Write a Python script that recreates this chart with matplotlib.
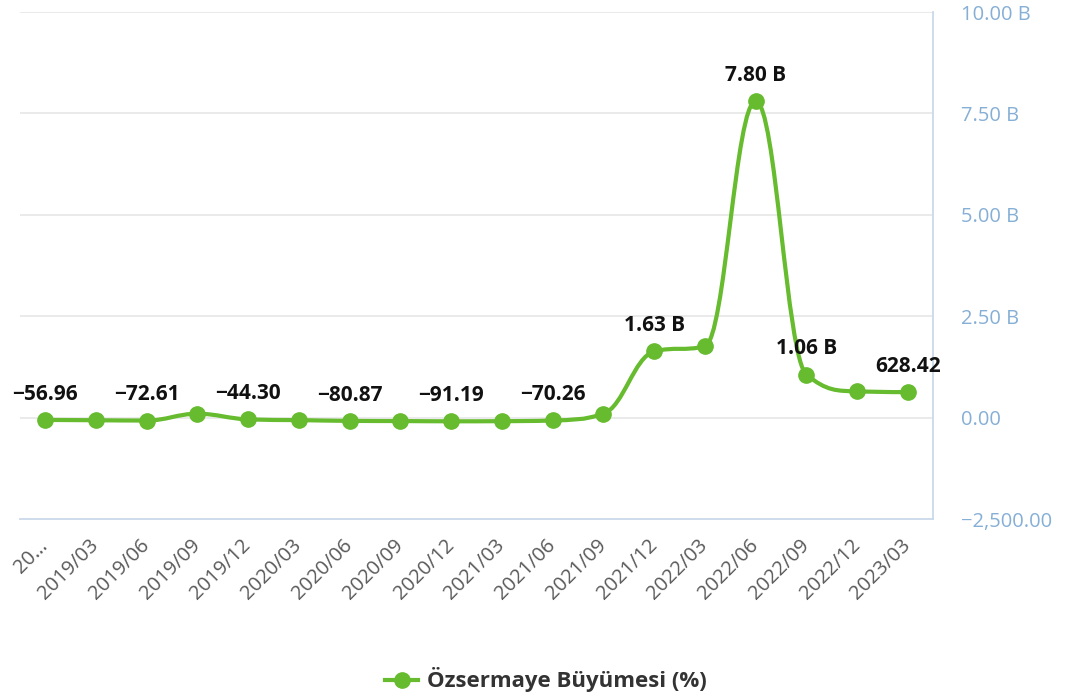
import numpy as np
import matplotlib
matplotlib.use("Agg")
import matplotlib.pyplot as plt
from matplotlib.path import Path
from matplotlib.patches import PathPatch
from matplotlib.lines import Line2D

plt.rcParams['font.family'] = ['Open Sans', 'DejaVu Sans']

# Quarterly equity growth values (in millions)
periods = ["20…", "2019/03", "2019/06", "2019/09", "2019/12", "2020/03",
           "2020/06", "2020/09", "2020/12", "2021/03", "2021/06", "2021/09",
           "2021/12", "2022/03", "2022/06", "2022/09", "2022/12", "2023/03"]
growth = [-56.96, -65.0, -72.61, 95.0, -44.30, -62.0,
          -80.87, -85.0, -91.19, -88.0, -70.26, 95.0,
          1630.0, 1760.0, 7800.0, 1060.0, 645.0, 628.42]
labeled_idx = [0, 2, 4, 6, 8, 10, 12, 14, 15, 17]

y_ticks = [-2500, 0, 2500, 5000, 7500, 10000]
series_name = "Özsermaye Büyümesi (%)"

GREEN = "#66bb2e"
AXIS_BLUE = "#c9d9ea"
TICK_BLUE = "#86afd6"


def fmt_value(v):
    if abs(v) >= 1000 and v > 0:
        s = f"{v / 1000:.2f} B"
    else:
        s = f"{v:,.2f}"
    return s.replace("-", "−")


def spline_path(xs, ys, smoothing=1.5):
    """Smooth curve through every point using clamped Bezier control points."""
    n = len(xs)
    left = [None] * n
    right = [None] * n
    for i in range(n):
        x, y = xs[i], ys[i]
        if i == 0 or i == n - 1:
            left[i] = (x, y)
            right[i] = (x, y)
            continue
        lx, ly = xs[i - 1], ys[i - 1]
        nx, ny = xs[i + 1], ys[i + 1]
        d = smoothing + 1
        lcx = (smoothing * x + lx) / d
        lcy = (smoothing * y + ly) / d
        rcx = (smoothing * x + nx) / d
        rcy = (smoothing * y + ny) / d
        if rcx != lcx:
            corr = ((rcy - lcy) * (rcx - x)) / (rcx - lcx) + y - rcy
            lcy += corr
            rcy += corr
        if lcy > max(ly, y):
            lcy = max(ly, y)
            rcy = 2 * y - lcy
        elif lcy < min(ly, y):
            lcy = min(ly, y)
            rcy = 2 * y - lcy
        if rcy > max(ny, y):
            rcy = max(ny, y)
            lcy = 2 * y - rcy
        elif rcy < min(ny, y):
            rcy = min(ny, y)
            lcy = 2 * y - rcy
        left[i] = (lcx, lcy)
        right[i] = (rcx, rcy)
    verts = [(xs[0], ys[0])]
    codes = [Path.MOVETO]
    for i in range(1, n):
        verts += [right[i - 1], left[i], (xs[i], ys[i])]
        codes += [Path.CURVE4] * 3
    return Path(verts, codes)


fig = plt.figure(figsize=(10.72, 6.97), dpi=100)
ax = fig.add_axes([19.6 / 1072, 1 - 519 / 697, (933.4 - 19.6) / 1072, (519 - 12) / 697])

x = np.arange(len(periods))
ax.set_xlim(-0.5, len(periods) - 0.5)
ax.set_ylim(y_ticks[0], y_ticks[-1])

# grid
for t in y_ticks[1:]:
    ax.axhline(t, color="#e6e6e6", lw=1.2, zorder=0)

for side in ["top", "left"]:
    ax.spines[side].set_visible(False)
ax.spines["right"].set_color(AXIS_BLUE)
ax.spines["bottom"].set_color(AXIS_BLUE)
ax.spines["right"].set_linewidth(1.3)
ax.spines["bottom"].set_linewidth(1.3)

# series
ax.add_patch(PathPatch(spline_path(list(x), growth), fill=False,
                       edgecolor=GREEN, lw=3.0, zorder=3, capstyle="round"))
ax.plot(x, growth, linestyle="none", marker="o", markersize=11,
        color=GREEN, zorder=4, clip_on=False)

for i in labeled_idx:
    ax.annotate(fmt_value(growth[i]), (x[i], growth[i]), xytext=(0, 11),
                textcoords="offset points", ha="center", va="bottom",
                fontsize=15, fontweight="bold", color="#111111", zorder=5)

# y axis on the right
ax.yaxis.tick_right()
ax.set_yticks(y_ticks)
ax.set_yticklabels([fmt_value(t) for t in y_ticks])
ax.tick_params(axis="y", length=0, pad=20, labelsize=14.5, labelcolor=TICK_BLUE)

# x axis labels
ax.set_xticks(x)
ax.set_xticklabels(periods, rotation=45, ha="right", va="center",
                   rotation_mode="anchor")
ax.tick_params(axis="x", length=0, pad=17, labelsize=14.5, labelcolor="#5a5a5a")

# legend
handle = Line2D([], [], color=GREEN, lw=3.0, marker="o", markersize=11)
fig.legend([handle], [series_name], loc="center",
           bbox_to_anchor=(546 / 1072, 1 - 680 / 697), frameon=False,
           prop={"size": 16, "weight": "bold"}, labelcolor="#333333",
           handlelength=1.5, handletextpad=0.4)

fig.savefig("out.png", dpi=100, facecolor="white")
